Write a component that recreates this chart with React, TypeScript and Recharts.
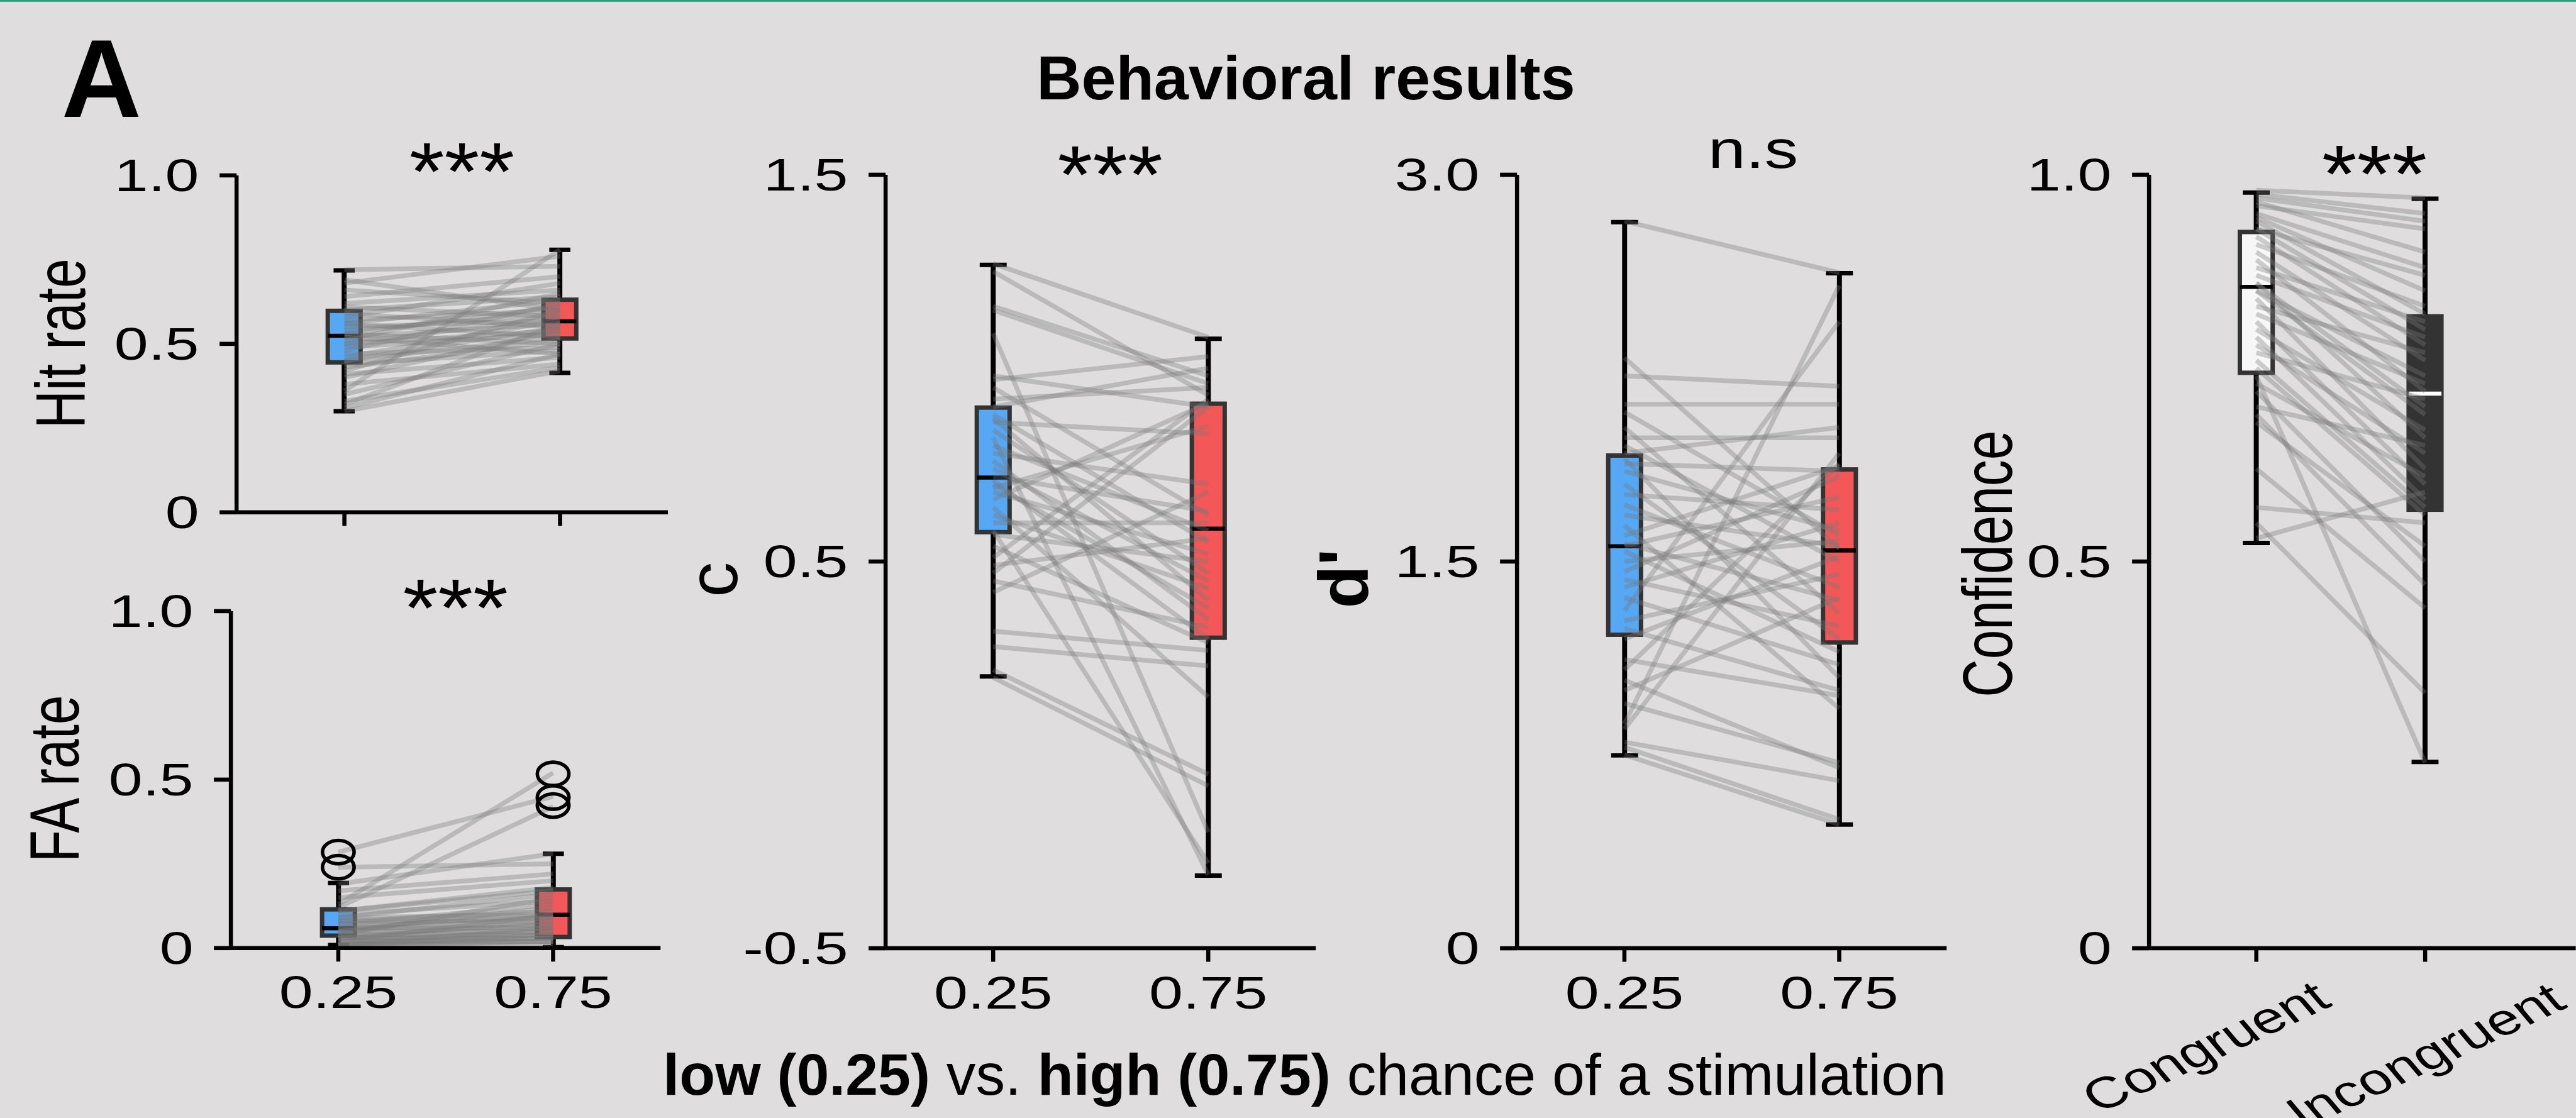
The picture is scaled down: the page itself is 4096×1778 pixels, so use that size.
import React from 'react';
import { ComposedChart, Bar, Line, XAxis, YAxis } from 'recharts';

// reference was 4395 px wide, window is 4096
const S = 4096 / 4395;
const k = (v: number) => v * S;
const FONT = '"Liberation Sans", Arial, Helvetica, sans-serif';
// the source figure was stretched sideways, so its text is wide
const WIDE = 1.35;

const stimGroups = ['0.25', '0.75'];
const confGroups = ['Congruent', 'Incongruent'];

// box stats: [lower whisker, q1, median, q3, upper whisker]
const hitBox25 = [0.3, 0.445, 0.524, 0.598, 0.718];
const hitBox75 = [0.414, 0.516, 0.567, 0.631, 0.779];
const faBox25 = [0.009, 0.037, 0.059, 0.115, 0.193];
const faBox75 = [0.003, 0.033, 0.099, 0.174, 0.28];
const cBox25 = [0.203, 0.576, 0.717, 0.898, 1.267];
const cBox75 = [-0.312, 0.303, 0.585, 0.908, 1.076];
const dBox25 = [0.748, 1.216, 1.559, 1.911, 2.816];
const dBox75 = [0.48, 1.186, 1.543, 1.857, 2.618];
const confBoxCong = [0.524, 0.744, 0.855, 0.926, 0.977];
const confBoxIncong = [0.241, 0.567, 0.717, 0.817, 0.969];

// outliers (FA rate): [value at 0.25, value at 0.75]
const faOutliers: (number | null)[][] = [
  [0.285, 0.517],
  [0.24, 0.447],
  [null, 0.423],
];

// per-subject values (low / high condition)
const hitLow = [0.72, 0.69, 0.68, 0.66, 0.64, 0.62, 0.61, 0.6, 0.59, 0.58, 0.57, 0.56, 0.56, 0.55, 0.54, 0.53, 0.53, 0.52, 0.52, 0.51, 0.5, 0.5, 0.49, 0.48, 0.47, 0.46, 0.45, 0.45, 0.44, 0.43, 0.42, 0.41, 0.4, 0.38, 0.36, 0.35, 0.33, 0.32, 0.31, 0.3];
const hitHigh = [0.73, 0.6, 0.76, 0.62, 0.7, 0.66, 0.58, 0.64, 0.55, 0.68, 0.6, 0.52, 0.63, 0.57, 0.59, 0.5, 0.61, 0.56, 0.47, 0.65, 0.54, 0.58, 0.53, 0.62, 0.49, 0.57, 0.52, 0.55, 0.48, 0.51, 0.6, 0.46, 0.54, 0.44, 0.78, 0.5, 0.43, 0.56, 0.47, 0.42];

const faLow = [0.285, 0.24, 0.19, 0.17, 0.15, 0.13, 0.12, 0.11, 0.11, 0.1, 0.09, 0.09, 0.08, 0.08, 0.07, 0.07, 0.06, 0.06, 0.06, 0.05, 0.05, 0.05, 0.04, 0.04, 0.04, 0.03, 0.03, 0.03, 0.03, 0.02, 0.02, 0.02, 0.02, 0.01, 0.01, 0.01, 0.01, 0.01, 0.005, 0.0];
const faHigh = [0.45, 0.25, 0.28, 0.22, 0.2, 0.52, 0.42, 0.17, 0.18, 0.14, 0.16, 0.1, 0.11, 0.08, 0.13, 0.09, 0.07, 0.1, 0.06, 0.12, 0.05, 0.09, 0.04, 0.07, 0.15, 0.03, 0.06, 0.04, 0.08, 0.03, 0.05, 0.02, 0.1, 0.03, 0.02, 0.04, 0.01, 0.06, 0.02, 0.0];

const cLow = [1.27, 1.25, 1.16, 1.15, 1.09, 0.98, 0.97, 0.95, 0.92, 0.9, 0.88, 0.87, 0.86, 0.84, 0.82, 0.8, 0.78, 0.76, 0.74, 0.72, 0.71, 0.7, 0.69, 0.68, 0.66, 0.64, 0.62, 0.6, 0.58, 0.57, 0.54, 0.51, 0.49, 0.47, 0.45, 0.42, 0.32, 0.28, 0.22, 0.2];
const cHigh = [1.08, 0.93, 0.98, 0.96, -0.2, 0.9, 1.03, 0.62, 0.95, 1.0, 0.55, 0.4, 0.83, 0.47, -0.31, 0.58, 0.7, 0.35, 0.45, 0.63, 0.3, 0.38, 0.85, 0.52, 0.91, 0.15, 0.43, 0.6, -0.28, 0.5, 0.29, 0.92, 0.56, 0.9, 0.33, 0.68, 0.27, 0.23, -0.05, -0.08];

const dLow = [2.82, 2.29, 2.22, 2.11, 2.08, 2.02, 1.98, 1.95, 1.92, 1.9, 1.88, 1.85, 1.8, 1.76, 1.72, 1.68, 1.64, 1.6, 1.57, 1.56, 1.54, 1.5, 1.46, 1.43, 1.4, 1.36, 1.31, 1.27, 1.24, 1.2, 1.12, 1.08, 1.04, 1.0, 0.95, 0.87, 0.85, 0.8, 0.78, 0.75];
const dHigh = [2.62, 1.55, 2.18, 2.11, 1.6, 1.3, 1.98, 1.5, 2.02, 1.05, 1.85, 1.62, 1.2, 1.7, 1.4, 1.56, 0.93, 1.87, 1.35, 1.75, 1.15, 1.58, 1.83, 1.25, 1.65, 1.1, 2.43, 1.45, 1.0, 1.52, 0.98, 1.88, 0.7, 1.36, 0.72, 2.57, 1.92, 0.65, 0.5, 0.48];

const confCong = [0.98, 0.975, 0.97, 0.965, 0.96, 0.95, 0.945, 0.94, 0.93, 0.93, 0.92, 0.91, 0.9, 0.89, 0.88, 0.87, 0.86, 0.86, 0.85, 0.85, 0.84, 0.83, 0.82, 0.81, 0.8, 0.79, 0.78, 0.77, 0.76, 0.75, 0.74, 0.73, 0.72, 0.7, 0.69, 0.68, 0.62, 0.57, 0.55, 0.53];
const confIncong = [0.97, 0.95, 0.94, 0.9, 0.93, 0.88, 0.85, 0.82, 0.8, 0.87, 0.78, 0.83, 0.76, 0.72, 0.81, 0.79, 0.7, 0.66, 0.74, 0.69, 0.62, 0.77, 0.73, 0.6, 0.67, 0.58, 0.64, 0.71, 0.57, 0.56, 0.24, 0.61, 0.5, 0.65, 0.47, 0.52, 0.44, 0.55, 0.33, 0.59];

const BLUE = '#56a7f4';
const RED = '#f45757';
const EDGE = '#333333';
const SUBJ = 'rgba(120,120,120,0.35)';

const fmtRate = (v: number) => (v === 0 ? '0' : v.toFixed(1));

// boxes, whiskers and medians drawn from the bar the library placed for [q1, q3]
const BoxShape = (props: any) => {
  const { x, y, width, height, payload } = props;
  const [lo, q1, med, q3, hi] = payload.stats as number[];
  const top = Math.min(y, y + height);
  const h = Math.abs(height);
  const unit = h / (q3 - q1);
  const py = (v: number) => top + (q3 - v) * unit;
  const cx = x + width / 2;
  const cap = k(payload.cap) / 2;
  const lw = k(8.5);
  return (
    <g>
      <line x1={cx} x2={cx} y1={py(hi)} y2={py(q3)} stroke="#000" strokeWidth={lw} />
      <line x1={cx} x2={cx} y1={py(q1)} y2={py(lo)} stroke="#000" strokeWidth={lw} />
      <line x1={cx - cap} x2={cx + cap} y1={py(hi)} y2={py(hi)} stroke="#000" strokeWidth={k(7.5)} />
      <line x1={cx - cap} x2={cx + cap} y1={py(lo)} y2={py(lo)} stroke="#000" strokeWidth={k(7.5)} />
      <rect x={x} y={top} width={width} height={h} fill={payload.fill} stroke={EDGE} strokeWidth={k(7.5)} />
      <line x1={x} x2={x + width} y1={py(med)} y2={py(med)} stroke={payload.median} strokeWidth={k(7)} />
    </g>
  );
};

// open outlier markers, wide like the rest of the stretched figure
const OutlierDot = (props: any) => {
  const { cx, cy } = props;
  if (typeof cx !== 'number' || typeof cy !== 'number' || props.value == null) return <g key={props.key} />;
  return (
    <ellipse key={props.key} cx={cx} cy={cy} rx={k(27)} ry={k(20)} fill="none" stroke="#000" strokeWidth={k(6)} />
  );
};

type PanelProps = {
  plot: [number, number, number, number];
  cats: string[];
  low: number[];
  high: number[];
  boxes: number[][];
  fills: string[];
  medians: string[];
  outliers?: (number | null)[][];
  domain: [number, number];
  ticks: number[];
  fmt: (v: number) => string;
  yLabel: { text: string; bx: number; cy: number; sx: number; bold?: boolean };
  xTicks: 'none' | 'plain' | 'rotated';
  capW: number;
  xPad?: { left: number; right: number };
  padB: number;
};

// rotated category labels sit a little differently under each tick
const rotShift = [
  [-87, 145],
  [0, 160],
];

function Panel(p: PanelProps) {
  const [pl, pt, pr, pb] = p.plot;
  const cl = pl - 380;
  const ct = pt - 60;
  const padR = Math.min(10, 4395 - pr);
  const width = k(pr - cl + padR);
  const height = k(pb - ct + p.padB);

  const data = p.cats.map((cat, ci) => {
    const row: Record<string, unknown> = {
      cat,
      box: [p.boxes[ci][1], p.boxes[ci][3]],
      stats: p.boxes[ci],
      fill: p.fills[ci],
      median: p.medians[ci],
      cap: p.capW,
    };
    p.low.forEach((v, i) => {
      row['s' + i] = ci === 0 ? v : p.high[i];
    });
    (p.outliers || []).forEach((o, j) => {
      if (o[ci] != null) row['o' + j] = o[ci];
    });
    return row;
  });

  const yTick = (t: any) => (
    <text
      transform={`translate(${t.x},${t.y}) scale(${WIDE},1)`}
      textAnchor="end"
      dominantBaseline="central"
      fontSize={k(77)}
      fontFamily={FONT}
      fill="#000"
    >
      {p.fmt(t.payload.value)}
    </text>
  );

  const xTick = (t: any) => {
    if (p.xTicks === 'none') return <g />;
    if (p.xTicks === 'plain')
      return (
        <text
          transform={`translate(${t.x},${t.y + k(53)}) scale(${WIDE},1)`}
          textAnchor="middle"
          dominantBaseline="central"
          fontSize={k(77)}
          fontFamily={FONT}
          fill="#000"
        >
          {t.payload.value}
        </text>
      );
    const [dx, dy] = rotShift[t.index] || [0, 150];
    return (
      <text
        transform={`translate(${t.x + k(dx)},${t.y + k(dy)}) scale(${WIDE},1) rotate(-32)`}
        textAnchor="middle"
        dominantBaseline="central"
        fontSize={k(75)}
        fontFamily={FONT}
        fill="#000"
      >
        {t.payload.value}
      </text>
    );
  };

  const yLabel = () => (
    <text
      transform={`translate(${k(p.yLabel.bx - cl)},${k(p.yLabel.cy - ct)}) rotate(-90) scale(${p.yLabel.sx},1)`}
      textAnchor="middle"
      fontSize={k(120)}
      fontFamily={FONT}
      fontWeight={p.yLabel.bold ? 700 : 400}
      fill="#000"
    >
      {p.yLabel.text}
    </text>
  );

  const axisStyle = { stroke: '#000', strokeWidth: k(7) };

  return (
    <div style={{ position: 'absolute', left: k(cl), top: k(ct) }}>
      <ComposedChart
        width={width}
        height={height}
        data={data}
        margin={{ top: k(60), right: k(padR), bottom: 0, left: 0 }}
      >
        <XAxis
          dataKey="cat"
          type="category"
          height={k(p.padB)}
          padding={p.xPad ? { left: k(p.xPad.left), right: k(p.xPad.right) } : { left: 0, right: 0 }}
          axisLine={axisStyle}
          tickLine={axisStyle}
          tickSize={k(23)}
          tickMargin={0}
          interval={0}
          tick={xTick}
        />
        <YAxis
          type="number"
          domain={p.domain}
          ticks={p.ticks}
          allowDataOverflow
          width={k(380)}
          axisLine={axisStyle}
          tickLine={axisStyle}
          tickSize={k(29)}
          tickMargin={k(35)}
          interval={0}
          tick={yTick}
          label={{ value: p.yLabel.text, content: yLabel }}
        />
        <Bar dataKey="box" barSize={k(56)} shape={BoxShape} isAnimationActive={false} />
        {p.low.map((_, i) => (
          <Line
            key={'s' + i}
            dataKey={'s' + i}
            stroke={SUBJ}
            strokeWidth={k(8)}
            dot={false}
            activeDot={false}
            isAnimationActive={false}
          />
        ))}
        {(p.outliers || []).map((_, j) => (
          <Line
            key={'o' + j}
            dataKey={'o' + j}
            stroke="none"
            dot={OutlierDot}
            activeDot={false}
            isAnimationActive={false}
          />
        ))}
      </ComposedChart>
    </div>
  );
}

const Stars = ({ x, y }: { x: number; y: number }) => (
  <text
    transform={`translate(${k(x)},${k(y + 78)}) scale(1.1,1)`}
    textAnchor="middle"
    fontSize={k(140)}
    fontFamily={FONT}
    fill="#000"
  >
    ***
  </text>
);

export default function App() {
  return (
    <div
      style={{
        position: 'absolute',
        left: 0,
        top: 0,
        width: 4096,
        height: 1778,
        background: '#dfdddd',
        overflow: 'hidden',
        fontFamily: FONT,
      }}
    >
      <svg width={4096} height={1778} style={{ position: 'absolute', left: 0, top: 0 }}>
        <rect x={0} y={0} width={4096} height={k(3)} fill="#2a9d7c" />
        <text x={k(105)} y={k(200)} fontSize={k(189)} fontWeight={700} fontFamily={FONT} fill="#000">
          A
        </text>
        <text x={k(2228)} y={k(170)} textAnchor="middle" fontSize={k(106)} fontWeight={700} fontFamily={FONT} fill="#000">
          Behavioral results
        </text>
        <Stars x={788} y={263} />
        <Stars x={777} y={1008} />
        <Stars x={1894} y={269} />
        <Stars x={4051} y={268} />
        <text
          transform={`translate(${k(2991)},${k(286)}) scale(1.25,1)`}
          textAnchor="middle"
          fontSize={k(92)}
          fontFamily={FONT}
          fill="#000"
        >
          n.s
        </text>
        <text x={k(2226)} y={k(1868)} textAnchor="middle" fontSize={k(100)} fontFamily={FONT} fill="#000">
          <tspan fontWeight={700}>low (0.25)</tspan>
          <tspan>{' vs. '}</tspan>
          <tspan fontWeight={700}>high (0.75)</tspan>
          <tspan>{' chance of a stimulation'}</tspan>
        </text>
      </svg>

      <Panel
        plot={[404, 299, 1140, 874]}
        cats={stimGroups}
        low={hitLow}
        high={hitHigh}
        boxes={[hitBox25, hitBox75]}
        fills={[BLUE, RED]}
        medians={['#000', '#000']}
        domain={[0, 1]}
        ticks={[0, 0.5, 1]}
        fmt={fmtRate}
        yLabel={{ text: 'Hit rate', bx: 145, cy: 586, sx: 0.75 }}
        xTicks="none"
        capW={36}
        padB={60}
      />
      <Panel
        plot={[394, 1043, 1127, 1618]}
        cats={stimGroups}
        low={faLow}
        high={faHigh}
        boxes={[faBox25, faBox75]}
        fills={[BLUE, RED]}
        medians={['#000', '#000']}
        outliers={faOutliers}
        domain={[0, 1]}
        ticks={[0, 0.5, 1]}
        fmt={fmtRate}
        yLabel={{ text: 'FA rate', bx: 134, cy: 1329, sx: 0.75 }}
        xTicks="plain"
        capW={36}
        padB={140}
      />
      <Panel
        plot={[1511, 298, 2245, 1618]}
        cats={stimGroups}
        low={cLow}
        high={cHigh}
        boxes={[cBox25, cBox75]}
        fills={[BLUE, RED]}
        medians={['#000', '#000']}
        domain={[-0.5, 1.5]}
        ticks={[-0.5, 0.5, 1.5]}
        fmt={(v) => v.toFixed(1)}
        yLabel={{ text: 'c', bx: 1258, cy: 989, sx: 1 }}
        xTicks="plain"
        capW={46}
        padB={140}
      />
      <Panel
        plot={[2588, 298, 3321, 1618]}
        cats={stimGroups}
        low={dLow}
        high={dHigh}
        boxes={[dBox25, dBox75]}
        fills={[BLUE, RED]}
        medians={['#000', '#000']}
        domain={[0, 3]}
        ticks={[0, 1.5, 3]}
        fmt={fmtRate}
        yLabel={{ text: "d'", bx: 2334, cy: 987, sx: 1, bold: true }}
        xTicks="plain"
        capW={46}
        padB={140}
      />
      <Panel
        plot={[3667, 298, 4395, 1618]}
        cats={confGroups}
        low={confCong}
        high={confIncong}
        boxes={[confBoxCong, confBoxIncong]}
        fills={['#f7f7f7', '#333333']}
        medians={['#000', '#fff']}
        domain={[0, 1]}
        ticks={[0, 0.5, 1]}
        fmt={fmtRate}
        yLabel={{ text: 'Confidence', bx: 3433, cy: 962, sx: 0.75 }}
        xTicks="rotated"
        capW={46}
        xPad={{ left: 39, right: 113 }}
        padB={300}
      />
    </div>
  );
}
